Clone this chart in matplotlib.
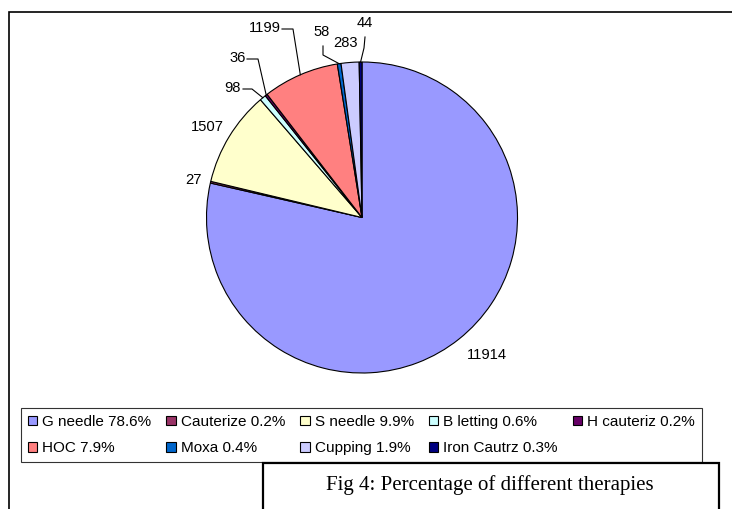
import matplotlib
matplotlib.use('Agg')
import matplotlib.pyplot as plt
import numpy as np
from matplotlib.patches import Patch, Rectangle

# data
therapies = ['G needle', 'Cauterize', 'S needle', 'B letting', 'H cauteriz',
             'HOC', 'Moxa', 'Cupping', 'Iron Cautrz']
counts = [11914, 27, 1507, 98, 36, 1199, 58, 283, 44]
colors = ['#9999FF', '#993366', '#FFFFCC', '#CCFFFF', '#660066',
          '#FF8080', '#0066CC', '#CCCCFF', '#000080']
caption = 'Fig 4: Percentage of different therapies'

# layout (pixel units, y going up)
W, H = 732, 509
center = (362, 291.5)
radius = 155.5
label_pos = [(487, 154), (193.5, 329), (207.5, 382), (232.5, 421), (238, 451),
             (264.5, 481), (322, 477), (345.5, 466), (365, 486)]
# leader line start and elbow, None where the label has no line
leaders = [None, None, None,
           ((243, 420), (252, 420)),
           ((247, 450), (258, 450)),
           ((282, 480), (293, 480)),
           ((323, 463), (323, 454)),
           None,
           ((365, 472), (364, 461))]

plt.rcParams['font.family'] = ['Liberation Sans', 'DejaVu Sans']

fig = plt.figure(figsize=(W / 100, H / 100), dpi=100)
ax = fig.add_axes([0, 0, 1, 1])

wedges, _ = ax.pie(counts, colors=colors, startangle=90, counterclock=False,
                   center=center, radius=radius,
                   wedgeprops=dict(edgecolor='black', linewidth=0.8))
ax.set_xlim(0, W)
ax.set_ylim(0, H)
ax.set_aspect('auto')
ax.set_axis_off()

for w, val, pos, lead in zip(wedges, counts, label_pos, leaders):
    ax.text(pos[0], pos[1], str(val), ha='center', va='center', fontsize=10.6)
    if lead is not None:
        th = np.deg2rad((w.theta1 + w.theta2) / 2)
        edge = (center[0] + radius * np.cos(th), center[1] + radius * np.sin(th))
        xs = [lead[0][0], lead[1][0], edge[0]]
        ys = [lead[0][1], lead[1][1], edge[1]]
        ax.plot(xs, ys, color='black', lw=0.8)

# legend, filled row by row like the original
total = sum(counts)
labels = [f'{n} {c / total * 100:.1f}%' for n, c in zip(therapies, counts)]
handles = [Patch(facecolor=c, edgecolor='black', linewidth=0.8) for c in colors]
order = [0, 5, 1, 6, 2, 7, 3, 8, 4]
leg = fig.legend([handles[i] for i in order], [labels[i] for i in order],
                 ncol=5, loc='upper left', bbox_to_anchor=(21 / W, 1 - 408 / H),
                 borderaxespad=0, fancybox=False, fontsize=11,
                 handlelength=0.6, handleheight=0.6, handletextpad=0.35,
                 columnspacing=0.98, labelspacing=0.82, borderpad=0.45)
leg.get_frame().set_edgecolor('black')
leg.get_frame().set_linewidth(0.8)

# outer frame
fig.patches.append(Rectangle((9 / W, -0.1), 1.1, (H - 12) / H + 0.1,
                             transform=fig.transFigure, fill=False,
                             edgecolor='black', lw=1.2, clip_on=False))

# caption box
fig.patches.append(Rectangle((263 / W, -0.1), (719 - 263) / W, (H - 463) / H + 0.1,
                             transform=fig.transFigure, facecolor='white',
                             edgecolor='black', lw=1.6, zorder=6, clip_on=False))
fig.text(490 / W, 1 - 485 / H, caption, ha='center', va='center', fontsize=15,
         family='Liberation Serif', zorder=7)

fig.savefig('out.png', dpi=100)
